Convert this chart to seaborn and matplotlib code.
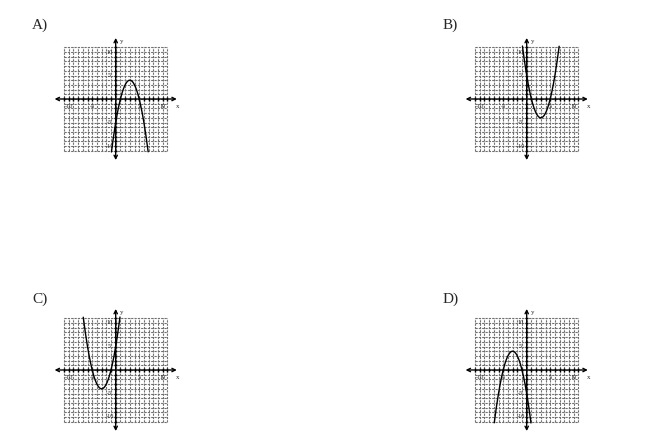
import numpy as np
import pandas as pd
import matplotlib
matplotlib.use("Agg")
import matplotlib.pyplot as plt
import seaborn as sns

# answer choices: y = a*x^2 + b*x + c
panel_labels = ["A)", "B)", "C)", "D)"]
coef_a = [-1, 1, 1, -1]
coef_b = [6, -6, 6, -6]
coef_c = [-5, 5, 5, -5]
tick_values = [-10, -5, 5, 10]
tick_text = ["-10", "-5", "5", "10"]

# layout (pixels in a 650x446 image)
W, H = 650, 446
origins = [(115.7, 99), (526.7, 99), (115.7, 370), (526.7, 370)]
label_pos = [(32, 29), (443, 29), (32, 303), (443, 303)]
PX = 4.7          # pixels per unit
LIM = 14
GRID = 11
AX_END = 13

sns.set_style("white")
plt.rcParams['font.family'] = ['Liberation Serif', 'DejaVu Serif']

fig = plt.figure(figsize=(W / 100, H / 100), dpi=100)

for i in range(4):
    ox, oy = origins[i]
    left = (ox - LIM * PX) / W
    bottom = (H - (oy + LIM * PX)) / H
    ax = fig.add_axes([left, bottom, 2 * LIM * PX / W, 2 * LIM * PX / H])
    ax.set_xlim(-LIM, LIM)
    ax.set_ylim(-LIM, LIM)
    ax.axis("off")

    # grid
    for g in range(-GRID, GRID + 1):
        ax.plot([g, g], [-GRID, GRID], color="#707070", lw=0.8,
                ls=(0, (2, 1)), zorder=1)
        ax.plot([-GRID, GRID], [g, g], color="#707070", lw=0.8,
                ls=(0, (2, 1)), zorder=1)

    # axes with arrows
    ax.annotate("", xy=(AX_END, 0), xytext=(-AX_END, 0),
                arrowprops=dict(arrowstyle="<->", lw=1.0, color="black",
                                shrinkA=0, shrinkB=0, mutation_scale=6), zorder=3)
    ax.annotate("", xy=(0, AX_END), xytext=(0, -AX_END),
                arrowprops=dict(arrowstyle="<->", lw=1.0, color="black",
                                shrinkA=0, shrinkB=0, mutation_scale=6), zorder=3)
    ticks = [t for t in range(-GRID, GRID + 1) if t != 0]
    ax.vlines(ticks, -0.35, 0.35, color="black", lw=1.0, zorder=3)
    ax.hlines(ticks, -0.35, 0.35, color="black", lw=1.0, zorder=3)

    for v, s in zip(tick_values, tick_text):
        ax.text(v, -1.5, s, fontsize=4.5, ha="center", va="center", zorder=4)
        ax.text(-1.3, v, s, fontsize=4.5, ha="center", va="center", zorder=4)
    ax.text(13.2, -1.5, "x", fontsize=5, ha="center", va="center")
    ax.text(1.3, 12.2, "y", fontsize=5, ha="center", va="center")

    # curve, kept inside the grid
    xs = np.linspace(-GRID, GRID, 801)
    ys = coef_a[i] * xs ** 2 + coef_b[i] * xs + coef_c[i]
    keep = np.abs(ys) <= GRID + 0.3
    df = pd.DataFrame({"x": xs[keep], "y": ys[keep]})
    sns.lineplot(data=df, x="x", y="y", ax=ax, color="black", lw=1.0,
                 sort=False, estimator=None, zorder=5)

    lx, ly = label_pos[i]
    fig.text(lx / W, 1 - ly / H, panel_labels[i], fontsize=11,
             ha="left", va="baseline")

fig.savefig("out.png", dpi=100)
